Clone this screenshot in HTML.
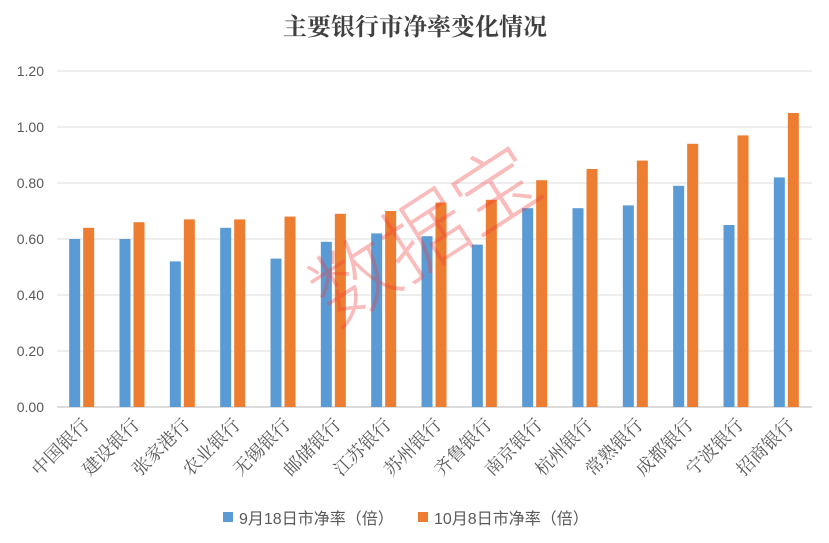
<!DOCTYPE html>
<html><head><meta charset="utf-8"><style>
html,body{margin:0;padding:0;background:#fff;}
svg{display:block;}
</style></head><body>
<svg id="chart" width="829" height="543" viewBox="0 0 829 543" xmlns="http://www.w3.org/2000/svg">
<text x="415" y="35" text-anchor="middle" font-family="'Liberation Serif','Noto Serif CJK SC',serif" font-size="24" font-weight="bold" fill="#404040">主要银行市净率变化情况</text>
<g id="grid"></g><g id="bars"></g><g id="xlabels"></g>
<text x="425" y="265" text-anchor="middle" transform="rotate(-33 425 235)" font-family="'Noto Sans CJK SC',sans-serif" font-size="84" font-weight="300" fill="rgba(240,60,60,0.35)">数据宝</text>
<g>
<rect x="223" y="512" width="10" height="10" fill="#5B9BD5"/>
<text x="239" y="524" font-family="'Liberation Sans','Noto Sans CJK SC',sans-serif" font-size="16" fill="#595959">9月18日市净率（倍）</text>
<rect x="418" y="512" width="10" height="10" fill="#ED7D31"/>
<text x="434" y="524" font-family="'Liberation Sans','Noto Sans CJK SC',sans-serif" font-size="16" fill="#595959">10月8日市净率（倍）</text>
</g>
</svg>
<script>
const categories=["中国银行","建设银行","张家港行","农业银行","无锡银行","邮储银行","江苏银行","苏州银行","齐鲁银行","南京银行","杭州银行","常熟银行","成都银行","宁波银行","招商银行"];
const sep18=[0.60,0.60,0.52,0.64,0.53,0.59,0.62,0.61,0.58,0.71,0.71,0.72,0.79,0.65,0.82];
const oct8=[0.64,0.66,0.67,0.67,0.68,0.69,0.70,0.73,0.74,0.81,0.85,0.88,0.94,0.97,1.05];
const yTicks=[0,0.2,0.4,0.6,0.8,1.0,1.2];
const NS="http://www.w3.org/2000/svg";
const x0=57,x1=812,yBase=407,pxPer=280;
const y=v=>yBase-v*pxPer;
const bw=(x1-x0)/categories.length;
const grid=document.getElementById('grid'),bars=document.getElementById('bars'),xl=document.getElementById('xlabels');
function mk(t,a){const e=document.createElementNS(NS,t);for(const k in a)e.setAttribute(k,a[k]);return e;}
yTicks.forEach((t,i)=>{
 const l=mk('line',{x1:x0,x2:x1,y1:y(t),y2:y(t),stroke:t===0?'#d0d0d0':'#e3e3e3','stroke-width':t===0?1.5:1.2});
 
 
 grid.appendChild(l);
 const tx=mk('text',{x:44,y:y(t)+5,'text-anchor':'end','font-family':"'Liberation Sans',sans-serif",'font-size':14,fill:'#595959'});
 tx.textContent=t.toFixed(2);
 
 
 grid.appendChild(tx);
});
categories.forEach((c,i)=>{
 const cx=x0+bw*(i+0.5);
 const b1=mk('rect',{x:cx-13,y:y(sep18[i]),width:11,height:sep18[i]*pxPer,fill:'#5B9BD5'});
 
 
 bars.appendChild(b1);
 const b2=mk('rect',{x:cx+1,y:y(oct8[i]),width:11,height:oct8[i]*pxPer,fill:'#ED7D31'});
 
 
 bars.appendChild(b2);
 const t=mk('text',{x:0,y:0,'text-anchor':'end','font-family':"'Liberation Serif','Noto Serif CJK SC',serif",'font-size':18,fill:'#595959',transform:`translate(${cx+8},${426}) rotate(-45)`});
 t.textContent=c;
 
 
 xl.appendChild(t);
});
</script>
</body></html>
